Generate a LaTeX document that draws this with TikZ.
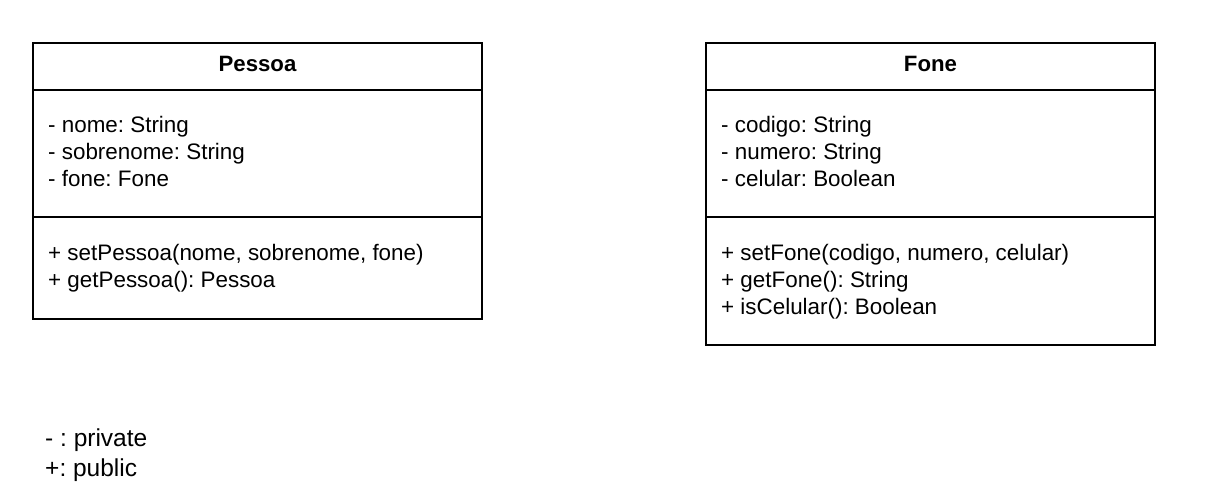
\documentclass[tikz,border=0pt]{standalone}
\usepackage{fontspec}
\setmainfont{Liberation Sans}
\frenchspacing
\usetikzlibrary{positioning}
\tikzset{classbox/.style={rectangle, draw, line width=2pt, minimum width=449pt, anchor=north west, inner sep=0pt, outer sep=0pt}}
\tikzset{classname/.style={anchor=base, inner sep=0pt, font=\fontsize{22.2}{27}\selectfont\bfseries}}
\tikzset{member/.style={anchor=base west, inner sep=0pt, font=\fontsize{22.4}{27}\selectfont}}
\tikzset{legend/.style={anchor=base west, inner sep=0pt, font=\fontsize{24.5}{30}\selectfont}}

\begin{document}
\begin{tikzpicture}[x=1pt,y=-1pt]
  \useasboundingbox (0,0) rectangle (1209,492);
  \node[classbox, minimum height=276pt] (pessoa) at (33,43) {};
  \node[classbox, minimum height=302pt] (fone) at (706,43) {};
  \foreach \cls in {pessoa, fone} {
    \foreach \d in {47, 174} {
      \draw[line width=2pt] ([yshift=-\d pt]\cls.north west) -- ([yshift=-\d pt]\cls.north east);
    }
  }
  \node[classname] (pessoa-name) at (257.5,72) {Pessoa};
  \node[classname] (fone-name) at (930.5,72) {Fone};
  \foreach \x/\y/\lab/\txt in {
    48/132/pa1/{- nome: String},
    48/159/pa2/{- sobrenome: String},
    48/186/pa3/{- fone: Fone},
    48/260/pm1/{+ setPessoa(nome, sobrenome, fone)},
    48/287/pm2/{+ getPessoa(): Pessoa},
    721/132/fa1/{- codigo: String},
    721/159/fa2/{- numero: String},
    721/186/fa3/{- celular: Boolean},
    721/260/fm1/{+ setFone(codigo, numero, celular)},
    721/287/fm2/{+ getFone(): String},
    721/314/fm3/{+ isCelular(): Boolean}%
  } {
    \node[member] (\lab) at (\x, \y) {\txt};
  }
  % legend
  \node[legend] (private) at (45,446) {- : private};
  \node[legend] (public) at (45,476) {+: public};
\end{tikzpicture}
\end{document}
